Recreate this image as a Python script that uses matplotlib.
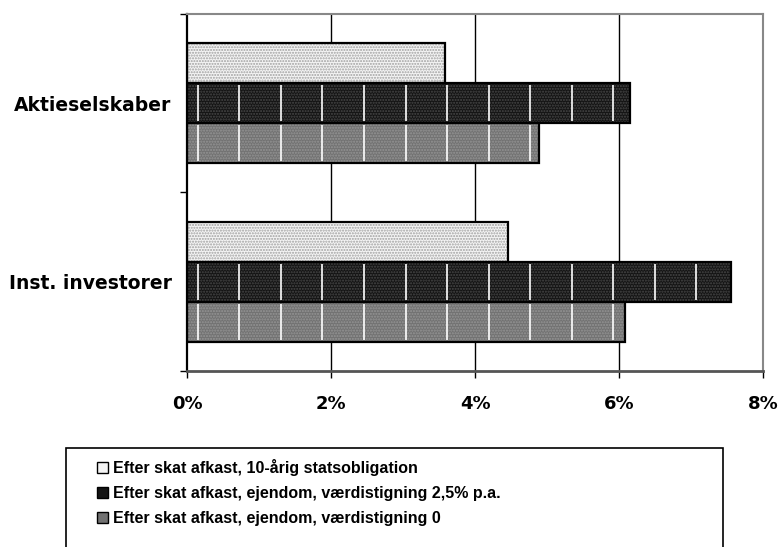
import numpy as np
import matplotlib.pyplot as plt
from matplotlib.patches import Patch, Rectangle

# afkast efter skat, i procent
kategorier = ["Inst. investorer", "Aktieselskaber"]
statsobligation = [4.46, 3.58]
ejendom_25 = [7.55, 6.15]
ejendom_0 = [6.08, 4.89]
serier = [
    "Efter skat afkast, 10-årig statsobligation",
    "Efter skat afkast, ejendom, værdistigning 2,5% p.a.",
    "Efter skat afkast, ejendom, værdistigning 0",
]
xticks = [0, 2, 4, 6, 8]

plt.rcParams["hatch.linewidth"] = 1.0

fig = plt.figure(figsize=(7.78, 5.47), dpi=100)
ax = fig.add_axes([0.2404, 0.3218, 0.7404, 0.6526])

y = np.arange(len(kategorier))
h = 0.224
stil = [
    (statsobligation, h, "#f4f4f4", "#a0a0a0"),
    (ejendom_25, 0.0, "#141414", "#484848"),
    (ejendom_0, -h, "#727272", "#959595"),
]

handles = []
for (vals, off, fc, hc), navn in zip(stil, serier):
    ax.barh(y + off, vals, height=h, color=fc, edgecolor="none", zorder=2)
    ax.barh(y + off, vals, height=h, color="none", edgecolor=hc,
            hatch="......", linewidth=0, zorder=3)
    ax.barh(y + off, vals, height=h, color="none", edgecolor="black",
            linewidth=1.6, zorder=4)
    handles.append(Patch(facecolor=fc, edgecolor="black", linewidth=1.0,
                         label=navn))

# hvide lodrette streger i de mørke søjler
streg = np.arange(0.15, 8, 0.577)
for vals, off in [(ejendom_25, 0.0), (ejendom_0, -h)]:
    for yi, v in zip(y, vals):
        xs = streg[streg < v - 0.05]
        ax.vlines(xs, yi + off - h / 2 + 0.01, yi + off + h / 2 - 0.01,
                  color="white", linewidth=1.2, zorder=3.5)

ax.set_xlim(0, 8)
ax.set_ylim(-0.5, 1.5)
ax.set_xticks(xticks)
ax.set_xticklabels([f"{t}%" for t in xticks], fontsize=13, fontweight="bold")
for t in xticks[1:-1]:
    ax.axvline(t, color="black", linewidth=1.0, zorder=1)

ax.set_yticks([-0.5, 0.5, 1.5])
ax.set_yticklabels([])
ax.set_yticks(y, minor=True)
ax.set_yticklabels(kategorier, minor=True, fontsize=13.5, fontweight="bold")
ax.tick_params(axis="y", which="minor", length=0, pad=11)
ax.tick_params(axis="y", which="major", length=5, width=1, color="black")
ax.tick_params(axis="x", length=5, width=1, pad=12)

ax.spines["left"].set_color("black")
ax.spines["left"].set_linewidth(1.6)
for s in ["top", "right"]:
    ax.spines[s].set_color("#888888")
    ax.spines[s].set_linewidth(1.5)
ax.spines["bottom"].set_color("#555555")
ax.spines["bottom"].set_linewidth(2.0)

# forklaringsboks, går ud over figurens nederste kant
fig.patches.append(Rectangle((66 / 778, -0.1), (723 - 66) / 778,
                             0.1 + 1 - 448 / 547, transform=fig.transFigure,
                             fill=False, edgecolor="black", linewidth=1.2))
fig.legend(handles=handles, loc="upper left",
           bbox_to_anchor=(97 / 778, 1 - 459 / 547),
           prop={"weight": "bold", "size": 11.5,
                 "family": ["Liberation Sans", "DejaVu Sans"]},
           frameon=False, handlelength=0.7, handleheight=0.7,
           handletextpad=0.3, labelspacing=0.62, borderpad=0,
           borderaxespad=0)

fig.savefig("out.png", dpi=100)
